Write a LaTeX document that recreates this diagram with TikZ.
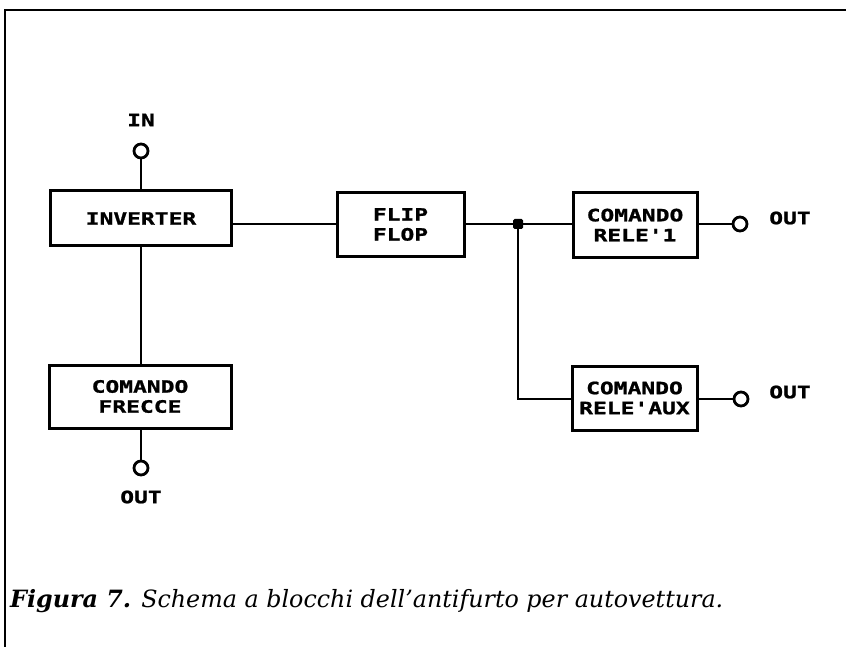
\documentclass[tikz,border=0pt]{standalone}
\usepackage{fontspec}
\newfontfamily\pixfont[FakeStretch=1.35,FakeBold=1.2]{DejaVu Sans Mono}
\newfontfamily\capfont{DejaVu Serif}
\begin{document}
\begin{tikzpicture}[x=1pt,y=-1pt,
  blk/.style={draw,line width=3pt,rectangle,inner sep=0pt,align=center,
    font=\pixfont\bfseries\fontsize{17}{20}\selectfont},
  term/.style={draw,line width=2.8pt,circle,inner sep=0pt,minimum size=14pt},
  lbl/.style={font=\pixfont\bfseries\fontsize{17}{20}\selectfont,inner sep=0pt},
  wire/.style={line width=2.6pt}]
\useasboundingbox (0,0) rectangle (846,647);
\draw[line width=1.8pt] (5,647) -- (5,10) -- (846,10);
% blocks
\node[blk,minimum width=181pt,minimum height=55pt] (inv) at (141,218.5) {INVERTER};
\node[blk,minimum width=182pt,minimum height=63pt] (frec) at (140,396.5) {COMANDO\\FRECCE};
\node[blk,minimum width=127pt,minimum height=63pt] (ff) at (400.5,224.5) {FLIP\\FLOP};
\node[blk,minimum width=124pt,minimum height=64pt] (r1) at (635,225) {COMANDO\\RELE'1};
\node[blk,minimum width=125pt,minimum height=64pt] (raux) at (634.5,398) {COMANDO\\RELE'AUX};
% terminals
\node[term] (inC) at (141,151) {};
\node[term] (outC) at (141,468) {};
\node[term] (o1) at (740,224) {};
\node[term] (o2) at (741,399) {};
% labels
\node[lbl] (inL) at (141,120) {IN};
\node[lbl] (outL) at (141,497) {OUT};
\node[lbl] (o1L) at (790,218) {OUT};
\node[lbl] (o2L) at (790,392) {OUT};
% junction
\coordinate (j) at (518,224);
\coordinate (jc) at (518,399);
% wires
\draw[wire] (inC.south) -- (inv.north -| inC.south);
\draw[wire] (inv.south) -- (frec.north -| inv.south);
\draw[wire] (frec.south -| outC.north) -- (outC.north);
\draw[wire] (inv.east |- j) -- (ff.west |- j);
\draw[wire] (ff.east |- j) -- (j) -- (r1.west |- j);
\draw[wire] (j) -- (jc) -- (raux.west |- jc);
\draw[wire] (r1.east |- o1) -- (o1.west);
\draw[wire] (raux.east |- o2) -- (o2.west);
\fill[rounded corners=1.5pt] (j) ++(-5,-5) rectangle ++(10,10);
% caption
\node[anchor=base west,inner sep=0pt,font=\capfont\itshape\fontsize{23.8}{28}\selectfont] (cap) at (10,607)
  {{\bfseries Figura 7.} Schema a blocchi dell’antifurto per autovettura.};
\end{tikzpicture}
\end{document}
